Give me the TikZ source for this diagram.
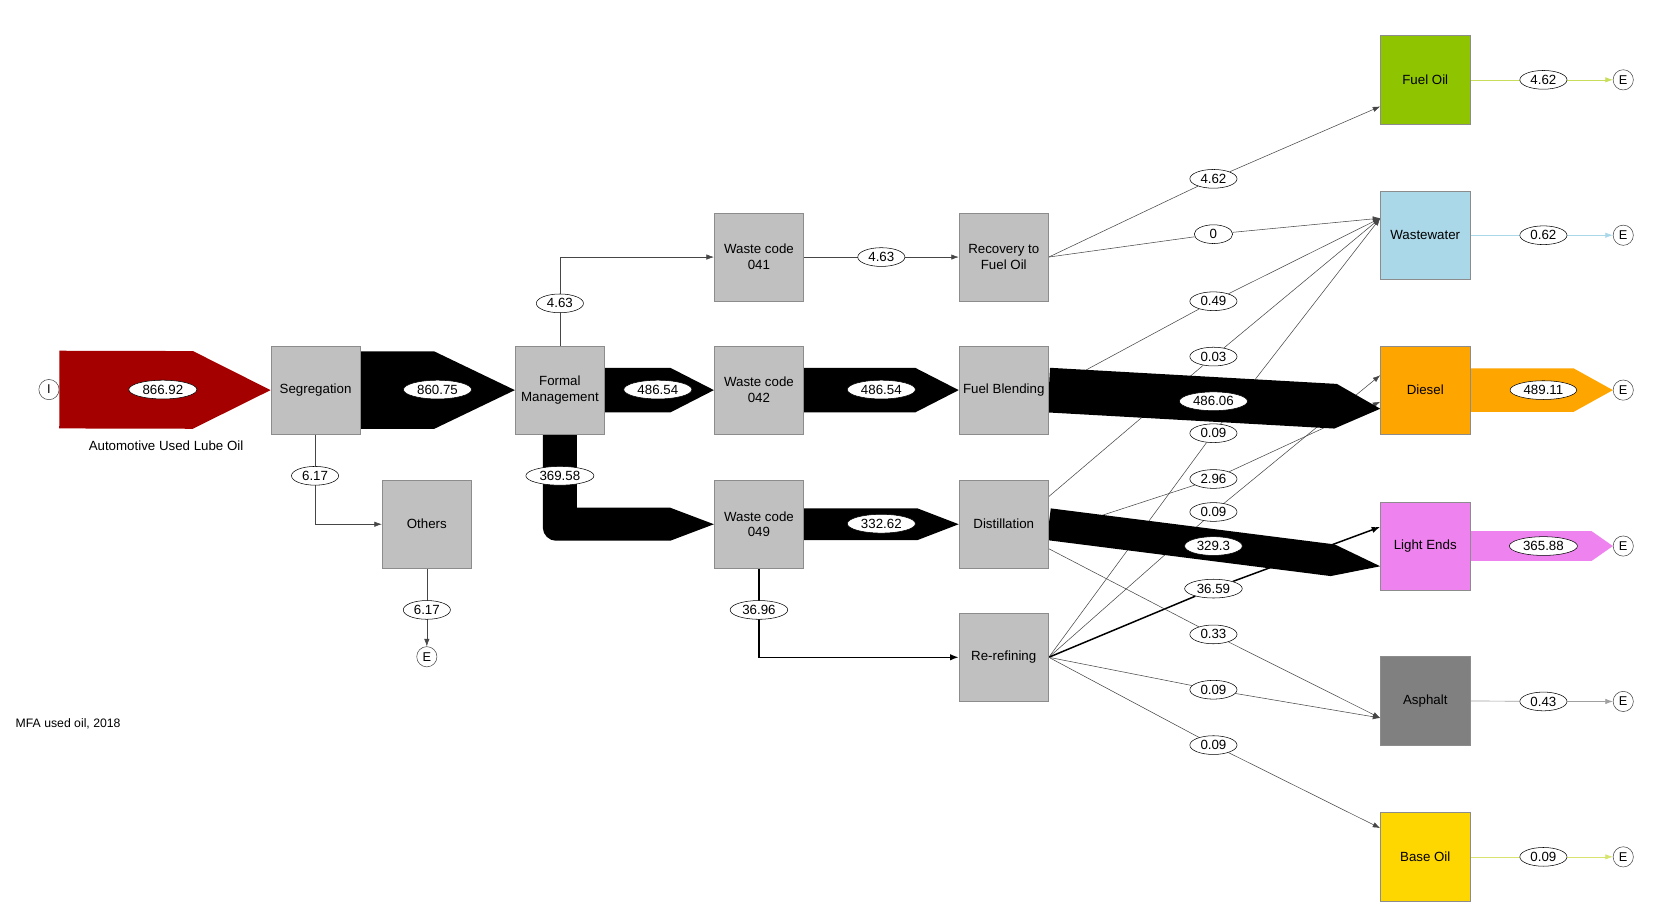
\documentclass[tikz,border=0pt]{standalone}
\usepackage{fontspec}
\setmainfont{Liberation Sans}
\usetikzlibrary{shapes.geometric,arrows.meta,calc}
\pgfdeclarelayer{lines}
\pgfdeclarelayer{bands}
\pgfsetlayers{lines,bands,main}
\definecolor{boxgray}{RGB}{192,192,192}
\definecolor{boxedge}{RGB}{140,140,140}
\definecolor{asphgray}{RGB}{128,128,128}
\definecolor{inred}{RGB}{165,0,0}
\definecolor{fuelgreen}{RGB}{143,196,0}
\definecolor{wwblue}{RGB}{170,216,232}
\definecolor{dieselor}{RGB}{255,165,0}
\definecolor{lightvi}{RGB}{238,130,238}
\definecolor{basegold}{RGB}{255,215,0}
\definecolor{linegray}{RGB}{70,70,70}
\definecolor{paleG}{RGB}{200,222,90}
\definecolor{paleY}{RGB}{215,228,110}
\definecolor{paleGray}{RGB}{160,160,160}
\newcommand\wflow[5]{%
  \coordinate (wfH) at ($(#2)!#4!(#1)$);
  \fill[#5] ($(#1)!#3!90:(#2)$) -- ($(wfH)!#3!-90:(#1)$) -- (#2) -- ($(wfH)!#3!90:(#1)$) -- ($(#1)!#3!-90:(#2)$) -- cycle;}
\tikzset{
  proc/.style={rectangle, draw=boxedge, line width=0.6pt, fill=boxgray, minimum width=84pt, minimum height=83pt, inner sep=0pt, align=center, font=\fontsize{12.5}{15}\selectfont},
  term/.style={circle, draw=linegray, fill=white, line width=0.5pt, minimum size=19pt, inner sep=0pt, font=\fontsize{12}{14}\selectfont},
  val/.style={ellipse, draw=black, fill=white, line width=0.5pt, inner xsep=3.5pt, inner ysep=1.8pt, minimum width=36pt, font=\fontsize{12.5}{14}\selectfont},
  flow/.style={draw=linegray, line width=0.5pt, -{Latex[length=7pt,width=5pt]}},
  bigflow/.style={draw=black, line width=1.4pt, -{Latex[length=8pt,width=6pt]}},
  outflow/.style={line width=0.6pt, -{Latex[length=7pt,width=5pt]}}
}
\begin{document}
\begin{tikzpicture}[x=1pt,y=-1pt]
\useasboundingbox (0,0) rectangle (1568,849);
% nodes
\node[term] (iin) at (46,366) {I};
\node[proc] (seg) at (296.5,366.5) {Segregation};
\node[proc] (fm) at (526,366.5) {Formal\\Management};
\node[proc] (oth) at (401,492.5) {Others};
\node[term] (eO) at (401,617) {E};
\node[proc] (w41) at (713,241.5) {Waste code\\041};
\node[proc] (w42) at (713,366.5) {Waste code\\042};
\node[proc] (w49) at (713,492.5) {Waste code\\049};
\node[proc] (rec) at (943,241.5) {Recovery to\\Fuel Oil};
\node[proc] (fb) at (943,366.5) {Fuel Blending};
\node[proc] (dist) at (943,492.5) {Distillation};
\node[proc] (rr) at (943,617.5) {Re-refining};
\node[proc, fill=fuelgreen] (fueloil) at (1339,75) {Fuel Oil};
\node[proc, fill=wwblue] (ww) at (1339,221) {Wastewater};
\node[proc, fill=dieselor] (diesel) at (1339,366.5) {Diesel};
\node[proc, fill=lightvi] (le) at (1339,513) {Light Ends};
\node[proc, fill=asphgray] (asph) at (1339,658.5) {Asphalt};
\node[proc, fill=basegold] (base) at (1339,805) {Base Oil};
\node[term] (eF) at (1525,75) {E};
\node[term] (eW) at (1525,221) {E};
\node[term] (eD) at (1525,366.5) {E};
\node[term] (eL) at (1525,513) {E};
\node[term] (eA) at (1525,659) {E};
\node[term] (eB) at (1525,805) {E};
\node[font=\fontsize{12.5}{15}\selectfont] (autxt) at (156,419) {Automotive Used Lube Oil};
\node[font=\fontsize{11.5}{14}\selectfont] (mfa) at (64,680) {MFA used oil, 2018};
% value labels
\node[val] (l866) at (153,366) {866.92};
\node[val] (l860) at (411,366) {860.75};
\node[val] (l617a) at (296,447) {6.17};
\node[val] (l617b) at (401,573) {6.17};
\node[val] (l463a) at (526,285) {4.63};
\node[val] (l463b) at (828,241.5) {4.63};
\node[val] (l486a) at (618,366) {486.54};
\node[val] (l486b) at (828,366) {486.54};
\node[val] (l36958) at (526,447) {369.58};
\node[val] (l33262) at (828,492) {332.62};
\node[val] (l3696) at (713,573) {36.96};
\node[val] (m462) at (1140,168) {4.62};
\node[val] (m0) at (1140,220) {0};
\node[val] (m049) at (1140,283) {0.49};
\node[val] (m003) at (1140,335) {0.03};
\node[val] (m48606) at (1140,377) {486.06};
\node[val] (m009a) at (1140,407) {0.09};
\node[val] (m296) at (1140,450) {2.96};
\node[val] (m009b) at (1140,481) {0.09};
\node[val] (m3293) at (1140,513) {329.3};
\node[val] (m3659) at (1140,553) {36.59};
\node[val] (m033) at (1140,596) {0.33};
\node[val] (m009c) at (1140,648) {0.09};
\node[val] (m009d) at (1140,700) {0.09};
\node[val] (o462) at (1450,75) {4.62};
\node[val] (o062) at (1450,221) {0.62};
\node[val] (o48911) at (1450,366.5) {489.11};
\node[val] (o36588) at (1450,513) {365.88};
\node[val] (o043) at (1450,659) {0.43};
\node[val] (o009) at (1450,805) {0.09};
% connection points
\coordinate (foIn) at ($(fueloil.west)+(0,25)$);
\coordinate (wwIn) at ($(ww.west)+(0,-16)$);
\coordinate (dsIn) at ($(diesel.west)+(0,-14)$);
\coordinate (dsLow) at ($(diesel.west)+(0,11)$);
\coordinate (dsTip) at ($(diesel.west)+(0,17.5)$);
\coordinate (leIn) at ($(le.west)+(0,-18)$);
\coordinate (leTip) at ($(le.west)+(0,19)$);
\coordinate (asIn) at ($(asph.west)+(0,16)$);
\coordinate (boIn) at ($(base.west)+(0,-27)$);
\coordinate (dTop) at ($(dist.east)+(0,-26)$);
\coordinate (dMid) at ($(dist.east)+(0,8)$);
\coordinate (dLow) at ($(dist.east)+(0,23)$);
% thin connectors
\begin{pgfonlayer}{lines}
\draw[flow] (fm.north) |- (w41.west);
\draw[flow] (w41.east) -- (rec.west);
\draw[flow] (seg.south) |- (oth.west);
\draw[flow] (oth.south) -- (eO.north);
\draw[bigflow] (w49.south) |- (rr.west);
\draw[flow] (rec.east) -- (m462) -- (foIn);
\draw[flow] (rec.east) -- (m0) -- (wwIn);
\draw[flow] (fb.east) -- (m049) -- (wwIn);
\draw[flow] (dTop) -- (m003) -- (wwIn);
\draw[flow] (rr.east) -- (m009a) -- (wwIn);
\draw[flow] (dMid) -- (m296) -- (dsLow);
\draw[flow] (rr.east) -- (m009b) -- (dsIn);
\draw[bigflow] (rr.east) -- (m3659) -- (leIn);
\draw[flow] (dLow) -- (m033) -- (asIn);
\draw[flow] (rr.east) -- (m009c) -- (asIn);
\draw[flow] (rr.east) -- (m009d) -- (boIn);
\draw[outflow, draw=paleG] (fueloil.east) -- (o462) -- (eF.west);
\draw[outflow, draw=wwblue] (ww.east) -- (o062) -- (eW.west);
\draw[outflow, draw=paleGray] (asph.east) -- (o043) -- (eA.west);
\draw[outflow, draw=paleY] (base.east) -- (o009) -- (eB.west);
\end{pgfonlayer}
% wide flows
\begin{pgfonlayer}{bands}
\wflow{iin.east}{seg.west}{36.5pt}{73pt}{inred}
\wflow{seg.east}{fm.west}{36.5pt}{76pt}{black}
\wflow{fm.east}{w42.west}{21pt}{41pt}{black}
\wflow{w42.east}{fb.west}{21pt}{41pt}{black}
\fill[black] ($(fm.south)+(-16,0)$) -- ($(fm.south|-w49.west)+(-16,3.5)$)
  .. controls ($(fm.south|-w49.west)+(-16,10)$) and ($(fm.south|-w49.west)+(-10,15.5)$) .. ($(fm.south|-w49.west)+(-4,15.5)$)
  -- ($(w49.west)+(-41,15.5)$) -- (w49.west) -- ($(w49.west)+(-41,-15.5)$)
  -- ($(fm.south|-w49.west)+(16,-15.5)$) -- ($(fm.south)+(16,0)$) -- cycle;
\wflow{w49.east}{dist.west}{15pt}{39pt}{black}
\wflow{fb.east}{dsTip}{21pt}{42pt}{black}
\wflow{dist.east}{leTip}{15pt}{45pt}{black}
\wflow{diesel.east}{eD.west}{20.5pt}{37pt}{dieselor}
\wflow{le.east}{eL.west}{14pt}{20pt}{lightvi}
\end{pgfonlayer}
\end{tikzpicture}
\end{document}
